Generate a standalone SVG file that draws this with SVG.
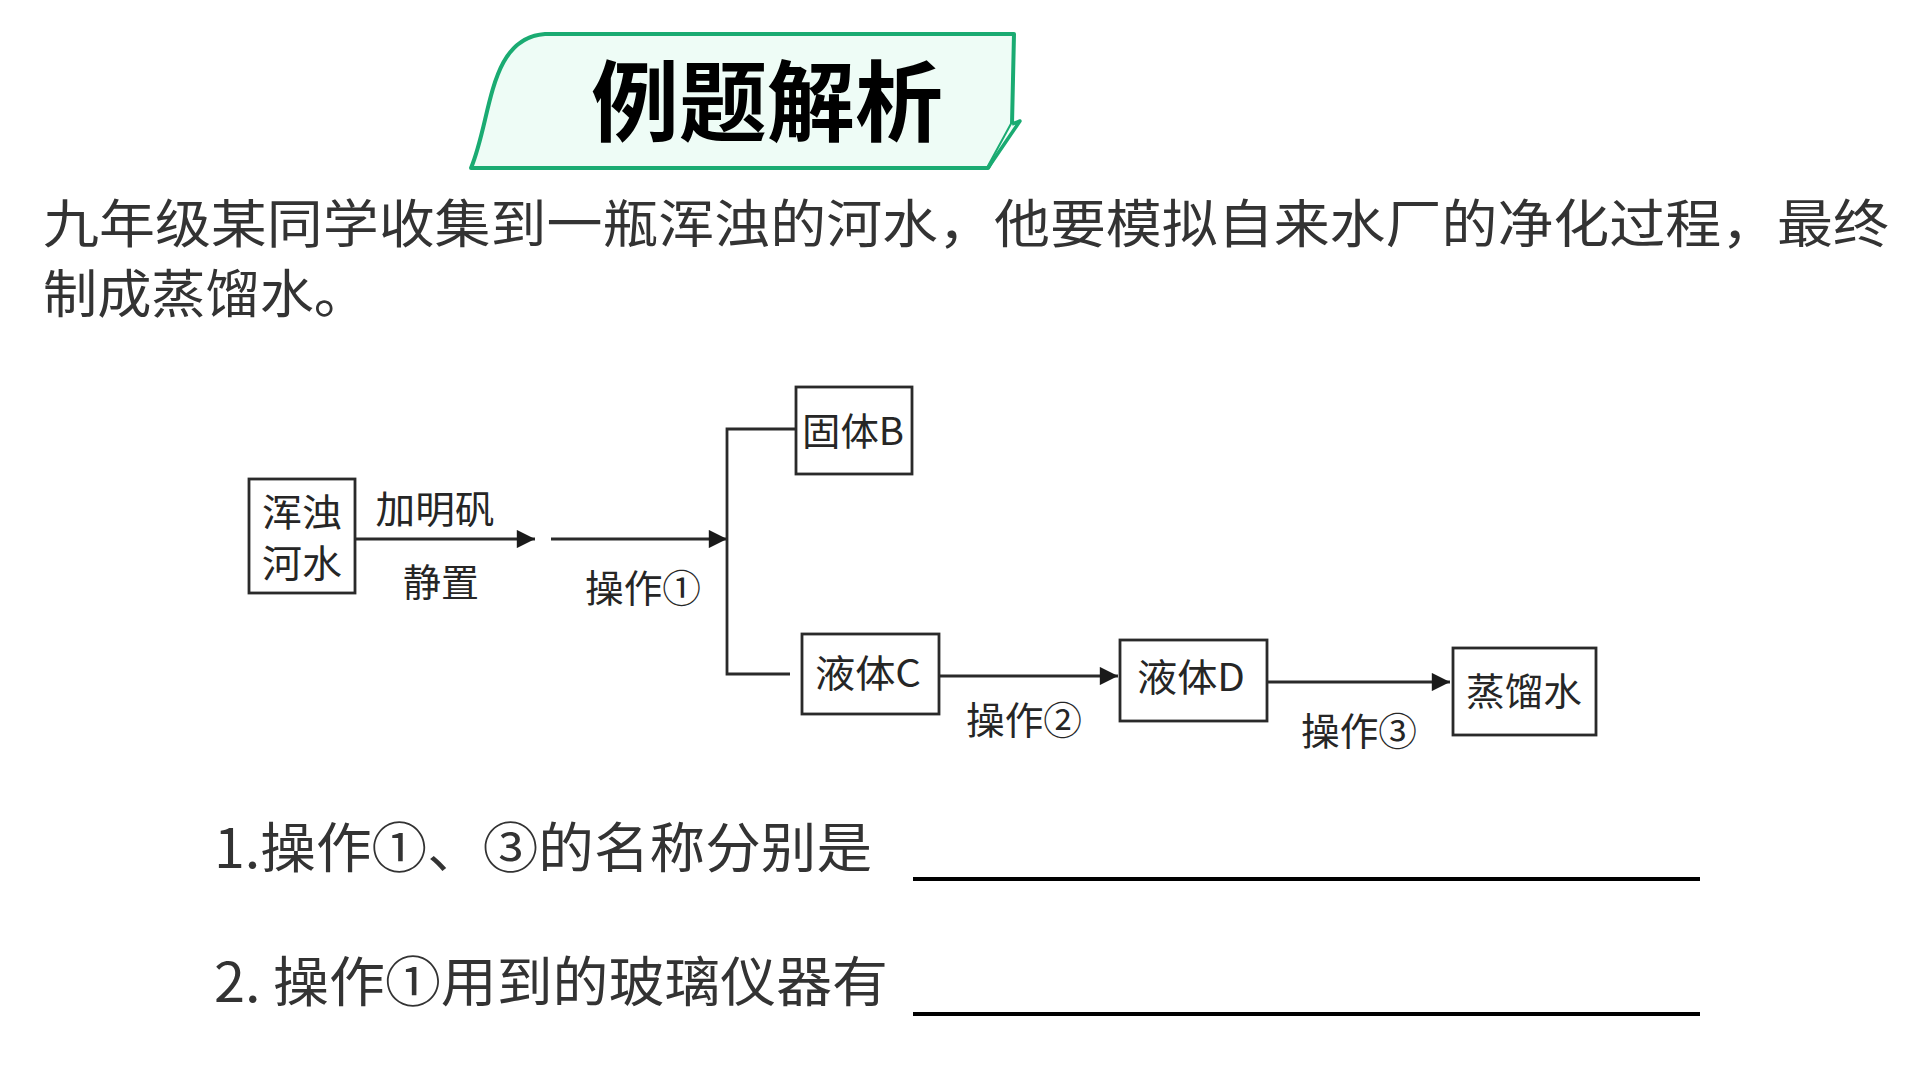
<svg xmlns="http://www.w3.org/2000/svg" width="1920" height="1080" viewBox="0 0 1920 1080">
<style>
.txt{font-family:"Noto Sans CJK SC","Noto Sans",sans-serif;fill:#333;}
.dg{font-family:"Noto Sans CJK SC","Noto Sans",sans-serif;fill:#262626;font-size:38px;text-anchor:middle;}
.box{fill:#fff;stroke:#2a2a2a;stroke-width:2.8;}
.ln{stroke:#2a2a2a;stroke-width:2.8;fill:none;}
.ul{stroke:#000;stroke-width:4;}
</style>
<defs>
<marker id="ah" viewBox="0 0 10 10" refX="10" refY="5" markerWidth="7" markerHeight="6.5" markerUnits="strokeWidth" orient="auto">
<path d="M0,0 L10,5 L0,10 Z" fill="#1a1a1a"/>
</marker>
</defs>
<rect width="1920" height="1080" fill="#fff"/>
<g id="banner">
<path d="M471,168 C492,118 488,38 545,34 L1014,34 L1012,124 L988,168 Z" fill="#eefcf6" stroke="#1aab72" stroke-width="4" stroke-linejoin="round"/>
<path d="M1012,124 L1020,121 L988,168" fill="#f4fdf9" stroke="#1aab72" stroke-width="3.5" stroke-linejoin="round"/>
<text x="767" y="134" font-family="'Noto Sans CJK SC',sans-serif" font-weight="bold" font-size="88" text-anchor="middle" fill="#000" textLength="352" lengthAdjust="spacingAndGlyphs">例题解析</text>
</g>
<g id="paragraph">
<text class="txt" x="43" y="243" font-size="52" textLength="1846" lengthAdjust="spacingAndGlyphs">九年级某同学收集到一瓶浑浊的河水，他要模拟自来水厂的净化过程，最终</text>
<text class="txt" x="43" y="313" font-size="52" textLength="325" lengthAdjust="spacingAndGlyphs">制成蒸馏水。</text>
</g>
<g id="connectors">
<line class="ln" x1="355" y1="539" x2="535" y2="539" marker-end="url(#ah)"/>
<line class="ln" x1="551" y1="539" x2="727" y2="539" marker-end="url(#ah)"/>
<polyline class="ln" points="796,429 727,429 727,674 790,674"/>
<line class="ln" x1="939" y1="676" x2="1118" y2="676" marker-end="url(#ah)"/>
<line class="ln" x1="1267" y1="682" x2="1450" y2="682" marker-end="url(#ah)"/>
<text class="dg" x="435" y="523" textLength="119" lengthAdjust="spacingAndGlyphs">加明矾</text>
<text class="dg" x="441" y="596" textLength="76" lengthAdjust="spacingAndGlyphs">静置</text>
<text class="dg" x="643" y="602" textLength="116" lengthAdjust="spacingAndGlyphs">操作①</text>
<text class="dg" x="1024" y="734" textLength="116" lengthAdjust="spacingAndGlyphs">操作②</text>
<text class="dg" x="1359" y="745" textLength="116" lengthAdjust="spacingAndGlyphs">操作③</text>
</g>
<g id="node-river">
<rect class="box" x="249" y="479" width="106" height="114"/>
<text class="dg" x="302" y="526" textLength="80" lengthAdjust="spacingAndGlyphs">浑浊</text>
<text class="dg" x="302" y="577" textLength="80" lengthAdjust="spacingAndGlyphs">河水</text>
</g>
<g id="node-solidB">
<rect class="box" x="796" y="387" width="116" height="87"/>
<text class="dg" x="853" y="445" textLength="102" lengthAdjust="spacingAndGlyphs">固体B</text>
</g>
<g id="node-liquidC">
<rect class="box" x="802" y="634" width="137" height="80"/>
<text class="dg" x="868" y="687" textLength="106" lengthAdjust="spacingAndGlyphs">液体C</text>
</g>
<g id="node-liquidD">
<rect class="box" x="1120" y="640" width="147" height="81"/>
<text class="dg" x="1191" y="691" textLength="108" lengthAdjust="spacingAndGlyphs">液体D</text>
</g>
<g id="node-distilled">
<rect class="box" x="1453" y="648" width="143" height="87"/>
<text class="dg" x="1524" y="705" textLength="116" lengthAdjust="spacingAndGlyphs">蒸馏水</text>
</g>
<g id="questions">
<text class="txt" x="214" y="868" font-size="54" textLength="658" lengthAdjust="spacingAndGlyphs">1.操作①、③的名称分别是</text>
<line class="ul" x1="913" y1="879" x2="1700" y2="879"/>
<text class="txt" x="214" y="1002" font-size="54" textLength="674" lengthAdjust="spacingAndGlyphs">2. 操作①用到的玻璃仪器有</text>
<line class="ul" x1="913" y1="1014" x2="1700" y2="1014"/>
</g>
</svg>
